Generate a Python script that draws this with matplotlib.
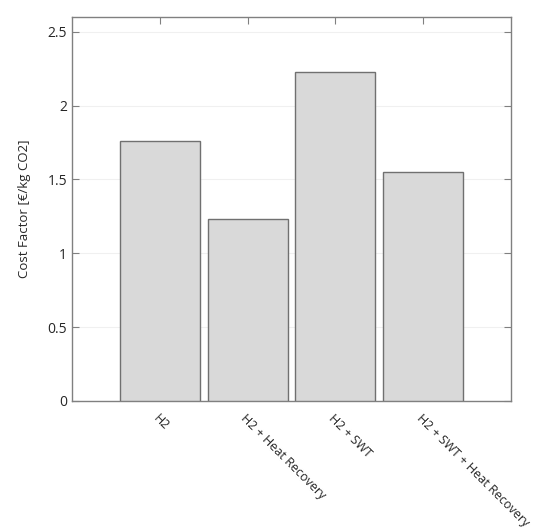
import matplotlib
matplotlib.use("Agg")
import matplotlib.pyplot as plt

categories = ["H2", "H2 + Heat Recovery", "H2 + SWT", "H2 + SWT + Heat Recovery"]
values = [1.762, 1.233, 2.229, 1.551]
yticks = [0, 0.5, 1, 1.5, 2, 2.5]
ytick_labels = ["0", "0.5", "1", "1.5", "2", "2.5"]

plt.rcParams['font.family'] = ['Open Sans', 'DejaVu Sans']

fig = plt.figure(figsize=(5.5, 5.32), dpi=100)
ax = fig.add_axes([72/550, 1 - 401/532, (511-72)/550, (401-17)/532])

x = list(range(1, len(categories) + 1))
ax.bar(x, values, width=0.91, color="#d9d9d9", edgecolor="#707070", linewidth=1.0, zorder=3)

ax.set_xlim(0, 5)
ax.set_ylim(0, 2.6)
ax.set_yticks(yticks)
ax.set_yticklabels(ytick_labels, fontsize=10, color="#262626")
ax.set_xticks(x)
ax.set_xticklabels(categories, rotation=-45, ha="left", va="top", rotation_mode="anchor",
                   fontsize=9, color="#262626")
ax.tick_params(axis="both", direction="in", length=5, color="#808080", top=True, right=True)
ax.tick_params(axis="x", pad=8)
ax.grid(axis="y", color="#f0f0f0", linewidth=0.8, zorder=0)
for s in ax.spines.values():
    s.set_color("#808080")
    s.set_linewidth(1.0)
ax.set_ylabel("Cost Factor [€/kg CO2]", fontsize=9.5, color="#262626", labelpad=12)

fig.savefig("out.png", dpi=100)
